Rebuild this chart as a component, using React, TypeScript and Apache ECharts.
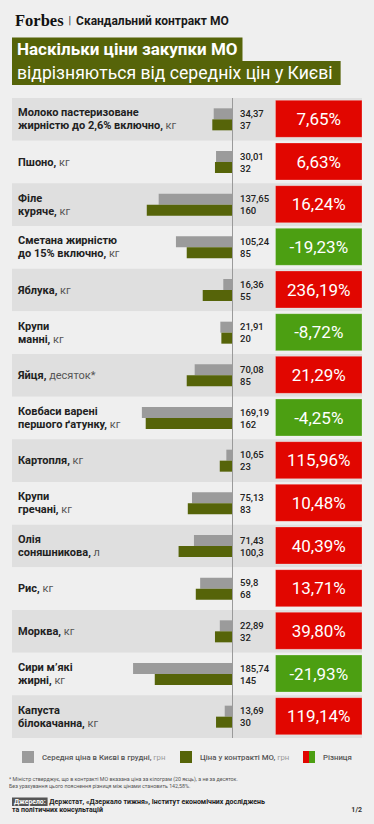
import React, { useEffect, useRef } from "react";
import * as echarts from "echarts";

const productNames = [
  "Молоко пастеризоване\nжирністю до 2,6% включно,",
  "Пшоно,",
  "Філе\nкуряче,",
  "Сметана жирністю\nдо 15% включно,",
  "Яблука,",
  "Крупи\nманні,",
  "Яйця,",
  "Ковбаси варені\nпершого ґатунку,",
  "Картопля,",
  "Крупи\nгречані,",
  "Олія\nсоняшникова,",
  "Рис,",
  "Морква,",
  "Сири м’які\nжирні,",
  "Капуста\nбілокачанна,",
];
const productUnits = ["кг", "кг", "кг", "кг", "кг", "кг", "десяток*", "кг", "кг", "кг", "л", "кг", "кг", "кг", "кг"];
const kyivPrices = [34.37, 30.01, 137.65, 105.24, 16.36, 21.91, 70.08, 169.19, 10.65, 75.13, 71.43, 59.8, 22.89, 185.74, 13.69];
const contractPrices = [37, 32, 160, 85, 55, 20, 85, 162, 23, 83, 100.3, 68, 32, 145, 30];
const differencePct = [7.65, 6.63, 16.24, -19.23, 236.19, -8.72, 21.29, -4.25, 115.96, 10.48, 40.39, 13.71, 39.8, -21.93, 119.14];

const seriesKyiv = "Середня ціна в Києві в грудні, грн";
const seriesContract = "Ціна у контракті МО, грн";
const seriesDiff = "Різниця";

const BG = "#efefef";
const ROW_DARK = "#dfdfdf";
const OLIVE = "#566409";
const GRAY = "#9b9b9b";
const RED = "#e10600";
const GREEN = "#4c9f12";
const FONT = "Roboto, 'Noto Sans', sans-serif";

const fmtNum = (v: number) => String(v).replace(".", ",");
const fmtPct = (v: number) => v.toFixed(2).replace(".", ",") + "%";

const diffIcon =
  "image://data:image/svg+xml;charset=utf-8," +
  encodeURIComponent(
    `<svg xmlns="http://www.w3.org/2000/svg" width="12" height="12"><rect width="6" height="12" fill="${RED}"/><rect x="6" width="6" height="12" fill="${GREEN}"/></svg>`
  );

export default function App() {
  const ref = useRef<HTMLDivElement>(null);
  useEffect(() => {
    document.body.style.margin = "0";
    const chart = echarts.init(ref.current!, undefined, { renderer: "svg" });
    const legendRich = {
      a: { fontFamily: FONT, fontSize: 7.8, fontWeight: 500, color: "#555", padding: [0, 0, 0, 3] },
      b: { fontFamily: FONT, fontSize: 7.8, color: "#9a9a9a" },
    };
    const legendText = { fontFamily: FONT, fontSize: 7.8, color: "#555", rich: legendRich };
    const option: any = {
      animation: false,
      backgroundColor: BG,
      textStyle: { fontFamily: FONT },
      title: [
        {
          text: "{f|Forbes}{s|  |  }{t|Скандальний контракт МО}",
          left: 15,
          top: 12,
          padding: 0,
          textStyle: {
            fontSize: 12,
            rich: {
              f: { fontFamily: "'Liberation Serif', serif", fontWeight: "bold", fontSize: 16.5, color: "#111" },
              s: { fontFamily: FONT, fontSize: 10, color: "#444" },
              t: { fontFamily: FONT, fontWeight: "bold", fontSize: 12, color: "#1a1a1a" },
            },
          },
        },
        {
          text: "Наскільки ціни закупки МО",
          left: 12,
          top: 37.5,
          backgroundColor: OLIVE,
          padding: [3, 5, 3, 5],
          textStyle: { fontFamily: FONT, color: "#fff", fontSize: 17, fontWeight: "bold", lineHeight: 17.5 },
        },
        {
          text: "відрізняються від середніх цін у Києві",
          left: 12,
          top: 61,
          backgroundColor: OLIVE,
          padding: [3, 8, 3, 5],
          textStyle: { fontFamily: FONT, color: "#fff", fontSize: 17.6, fontWeight: "normal", lineHeight: 18 },
        },
        {
          text:
            "* Міністр стверджує, що в контракті МО вказана ціна за кілограм (20 яєць), а не за десяток.\nБез урахування цього пояснення різниця між цінами становить 142,58%.",
          left: 9,
          top: 776,
          padding: 0,
          textStyle: { fontFamily: FONT, fontSize: 5.3, lineHeight: 6.5, color: "#555", fontWeight: "normal" },
        },
        {
          text: "{k|Джерело:}{t| Держстат, «Дзеркало тижня», Інститут економічних досліджень}",
          left: 12,
          top: 797.5,
          padding: 0,
          textStyle: {
            fontFamily: FONT,
            fontSize: 7,
            lineHeight: 8,
            rich: {
              k: { fontFamily: FONT, fontSize: 6.8, fontWeight: "bold", color: "#fff", backgroundColor: "#555", padding: [1, 2, 0.5, 2], lineHeight: 7 },
              t: { fontFamily: FONT, fontSize: 7, fontWeight: "bold", color: "#222", lineHeight: 8.5 },
            },
          },
        },
        {
          text: "та політичних консультацій",
          left: 12,
          top: 806,
          padding: 0,
          textStyle: { fontFamily: FONT, fontSize: 7, fontWeight: "bold", color: "#222", lineHeight: 8.5 },
        },
        {
          text: "1/2",
          right: 12,
          top: 806,
          padding: 0,
          textStyle: { fontFamily: FONT, fontSize: 7, fontWeight: "bold", color: "#333", lineHeight: 8.5 },
        },
      ],
      legend: [
        {
          data: [{ name: seriesKyiv, icon: "rect" }],
          left: 22,
          top: 751,
          padding: 0,
          itemWidth: 12,
          itemHeight: 12,
          selectedMode: false,
          formatter: () => "{a|Середня ціна в Києві в грудні,}{b| грн}",
          textStyle: legendText,
        },
        {
          data: [{ name: seriesContract, icon: "rect" }],
          left: 180,
          top: 751,
          padding: 0,
          itemWidth: 12,
          itemHeight: 12,
          selectedMode: false,
          formatter: () => "{a|Ціна у контракті МО,}{b| грн}",
          textStyle: legendText,
        },
        {
          data: [{ name: seriesDiff, icon: diffIcon }],
          left: 303,
          top: 751,
          padding: 0,
          itemWidth: 12,
          itemHeight: 12,
          selectedMode: false,
          formatter: () => "{a|Різниця}",
          textStyle: legendText,
        },
      ],
      grid: { left: 12, right: 12, top: 98, bottom: 86, containLabel: false },
      xAxis: {
        type: "value",
        inverse: true,
        min: -244,
        max: 413,
        show: false,
        splitLine: { show: false },
      },
      yAxis: {
        type: "category",
        inverse: true,
        data: productNames,
        axisLine: { show: false },
        axisTick: { show: false },
        splitLine: { show: false },
        splitArea: { show: true, areaStyle: { color: [ROW_DARK, BG] } },
        axisLabel: {
          inside: true,
          margin: 6,
          align: "left",
          fontSize: 11,
          lineHeight: 13,
          formatter: (v: string, i: number) => `{b|${v}}{u| ${productUnits[i]}}`,
          rich: {
            b: { fontFamily: FONT, fontSize: 11, fontWeight: "bold", color: "#222", lineHeight: 13 },
            u: { fontFamily: FONT, fontSize: 11, fontWeight: "normal", color: "#555", lineHeight: 13 },
          },
        },
      },
      series: [
        {
          name: seriesKyiv,
          type: "bar",
          data: kyivPrices,
          barWidth: 11,
          barGap: "0%",
          itemStyle: { color: GRAY },
          markLine: {
            silent: true,
            symbol: "none",
            label: { show: false },
            lineStyle: { color: "#9a9a9a", type: "solid", width: 1 },
            data: [{ xAxis: 0 }],
          },
        },
        {
          name: seriesContract,
          type: "bar",
          data: contractPrices,
          barWidth: 11,
          barGap: "0%",
          itemStyle: { color: OLIVE },
        },
        {
          name: seriesDiff,
          type: "custom",
          itemStyle: { color: RED },
          encode: { x: 0, y: 1 },
          data: differencePct.map((v, i) => [0, i, v]),
          renderItem: (params: any, api: any) => {
            const i = api.value(1);
            const pct = api.value(2);
            const c = api.coord([0, i]);
            const cs = params.coordSys;
            const boxW = 86.5;
            const boxX = cs.x + cs.width - boxW;
            const boxY = c[1] - 19;
            const fill = pct >= 0 ? RED : GREEN;
            return {
              type: "group",
              children: [
                {
                  type: "rect",
                  shape: { x: boxX, y: boxY, width: boxW, height: 37 },
                  style: { fill, stroke: "rgba(255,255,255,0.25)", lineWidth: 1 },
                },
                {
                  type: "text",
                  x: boxX + boxW / 2,
                  y: c[1] - 0.5,
                  style: {
                    text: fmtPct(pct),
                    fill: "#fff",
                    font: `normal 17px ${FONT}`,
                    align: "center",
                    verticalAlign: "middle",
                  },
                },
                {
                  type: "text",
                  x: c[0] + 8,
                  y: c[1] - 6,
                  style: {
                    text: fmtNum(kyivPrices[i]),
                    fill: "#222",
                    font: `500 9.5px ${FONT}`,
                    align: "left",
                    verticalAlign: "middle",
                  },
                },
                {
                  type: "text",
                  x: c[0] + 8,
                  y: c[1] + 6,
                  style: {
                    text: fmtNum(contractPrices[i]),
                    fill: "#222",
                    font: `500 9.5px ${FONT}`,
                    align: "left",
                    verticalAlign: "middle",
                  },
                },
              ],
            };
          },
        },
      ],
    };
    chart.setOption(option);
    return () => chart.dispose();
  }, []);
  return <div ref={ref} style={{ position: "absolute", left: 0, top: 0, width: 374, height: 824 }} />;
}
